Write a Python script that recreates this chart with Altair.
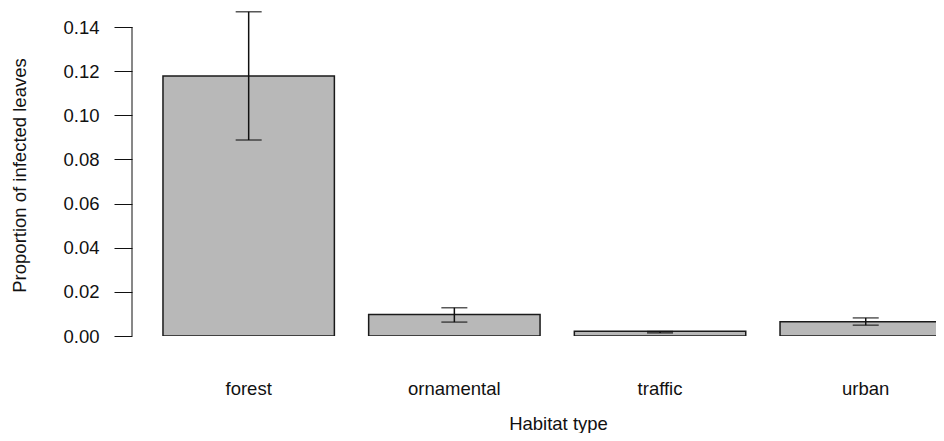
import altair as alt
import pandas as pd

# Data
categories = ["forest", "ornamental", "traffic", "urban"]
means = [0.1178, 0.0097, 0.0022, 0.0065]
err_lo = [0.0888, 0.0063, 0.0014, 0.0049]
err_hi = [0.1469, 0.0128, 0.0020, 0.0082]
y_ticks = [0.00, 0.02, 0.04, 0.06, 0.08, 0.10, 0.12, 0.14]

# R barplot layout: width 1, space 0.2
bar_width = 1.0
space = 0.2
x0 = [space + i * (bar_width + space) for i in range(len(categories))]
df = pd.DataFrame({
    "cat": categories,
    "mean": means,
    "lo": err_lo,
    "hi": err_hi,
    "x0": x0,
    "x1": [v + bar_width for v in x0],
    "xc": [v + bar_width / 2 for v in x0],
    "zero": [0.0] * len(categories),
})
axis_df = pd.DataFrame({"lo": [min(y_ticks)], "hi": [max(y_ticks)]})

FONT = "Liberation Sans"
FS = 18.5

xscale = alt.Scale(domain=[0.0193, 4.710], nice=False, zero=False)
yscale = alt.Scale(domain=[0, 0.14861], nice=False, zero=False)

base = alt.Chart(df)

bars = base.mark_bar(fill="#b8b8b8", stroke="#1a1a1a", strokeWidth=1.5, clip=True).encode(
    x=alt.X("x0:Q", scale=xscale,
            axis=alt.Axis(labels=False, ticks=False, domain=False, grid=False,
                          title="Habitat type", titleX=426, titleY=93,
                          titleBaseline="alphabetic", titleAlign="center",
                          titleFont=FONT, titleFontSize=FS, titleFontWeight="normal",
                          titleColor="#111")),
    x2="x1:Q",
    y=alt.Y("mean:Q", scale=yscale,
            axis=alt.Axis(values=y_ticks, format=".2f", domain=False, grid=False,
                          tickSize=18, tickColor="#111", tickWidth=1,
                          labelPadding=15, labelFont=FONT, labelFontSize=FS,
                          labelColor="#111",
                          title="Proportion of infected leaves",
                          titleAngle=270, titleX=-107, titleY=167,
                          titleBaseline="alphabetic", titleAlign="center",
                          titleFont=FONT, titleFontSize=FS, titleFontWeight="normal",
                          titleColor="#111")),
    y2="zero:Q",
)

yaxis_line = alt.Chart(axis_df).mark_rule(color="#111", strokeWidth=1).encode(
    x=alt.value(0),
    y=alt.Y("lo:Q", scale=yscale),
    y2="hi:Q",
)

err = base.mark_rule(color="#111", strokeWidth=1.5).encode(
    x=alt.X("xc:Q", scale=xscale),
    y=alt.Y("lo:Q", scale=yscale),
    y2="hi:Q",
)

cap_lo = base.mark_tick(orient="horizontal", size=26, thickness=1.5, color="#111").encode(
    x=alt.X("xc:Q", scale=xscale),
    y=alt.Y("lo:Q", scale=yscale),
)
cap_hi = base.mark_tick(orient="horizontal", size=26, thickness=1.5, color="#111").encode(
    x=alt.X("xc:Q", scale=xscale),
    y=alt.Y("hi:Q", scale=yscale),
)

labels = base.mark_text(font=FONT, fontSize=FS, baseline="alphabetic", align="center",
                        color="#111").encode(
    x=alt.X("xc:Q", scale=xscale),
    y=alt.value(387),
    text="cat:N",
)

chart = alt.layer(bars, yaxis_line, err, cap_lo, cap_hi, labels).properties(
    width=804,
    height=328,
    autosize=alt.AutoSizeParams(type="none"),
    padding={"left": 124, "top": 0, "right": 0, "bottom": 97},
    background="white",
).configure_view(stroke=None)

chart.save("out.html", embed_options={"renderer": "svg", "actions": False})
